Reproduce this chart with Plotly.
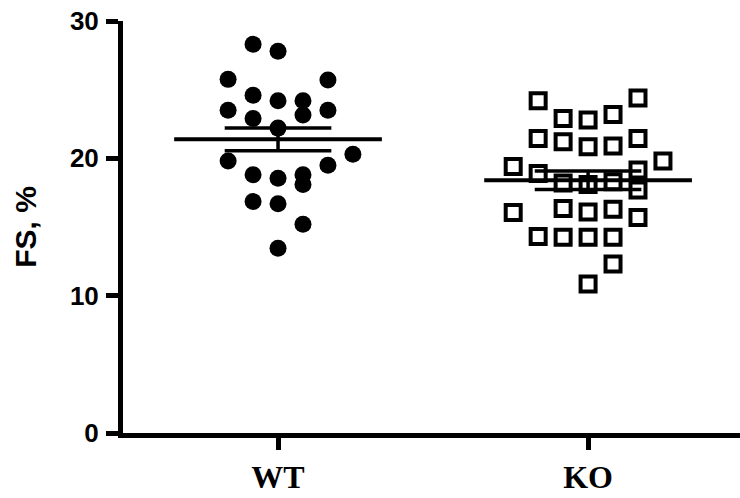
import numpy as np
import plotly.graph_objects as go

# Fractional shortening (%) per animal
GROUPS = ["WT", "KO"]
WT_FS = [28.3, 27.8, 25.75, 25.7, 24.6, 24.2, 24.2, 23.5, 23.5, 23.15, 22.9, 22.2,
         20.3, 19.8, 19.5, 18.8, 18.55, 18.8, 18.1, 16.85, 16.7, 15.2, 13.45]
KO_FS = [24.2, 24.4, 22.9, 22.8, 23.2, 21.45, 21.2, 20.85, 20.9, 21.45, 19.8, 19.4,
         18.9, 19.15, 17.7, 18.2, 18.1, 18.3, 16.05, 16.35, 16.1, 16.3, 15.7, 14.3,
         14.25, 14.25, 14.25, 12.3, 10.85]
Y_TICKS = [0, 10, 20, 30]

# Swarm column index of each point (layout of the dot plot)
WT_SLOT = [-1, 0, -2, 2, -1, 0, 1, -2, 2, 1, -1, 0, 3, -2, 2, -1, 0, 1, 1, -1, 0, 1, 0]
KO_SLOT = [-2, 2, -1, 0, 1, -2, -1, 0, 1, 2, 3, -3, -2, 2, 2, -1, 0, 1, -3, -1, 0, 1, 2,
           -2, -1, 0, 1, 1, 0]

COL_STEP = 0.0805     # horizontal spacing between swarm columns
MEAN_HALF = 0.335     # half-length of the mean bar
SEM_HALF = 0.172      # half-length of the SEM bars

fig = go.Figure()

groups = [
    (1, WT_FS, WT_SLOT, dict(symbol="circle", size=17, color="black", line=dict(width=0))),
    (2, KO_FS, KO_SLOT, dict(symbol="square-open", size=15, color="black",
                             line=dict(width=4, color="black"))),
]

for xc, vals, slots, marker in groups:
    v = np.asarray(vals, dtype=float)
    xs = xc + np.asarray(slots) * COL_STEP
    fig.add_trace(go.Scatter(x=xs, y=v, mode="markers", marker=marker,
                             showlegend=False, hoverinfo="y"))
    mean = v.mean()
    sem = v.std(ddof=1) / np.sqrt(len(v))
    # mean bar
    fig.add_trace(go.Scatter(x=[xc - MEAN_HALF, xc + MEAN_HALF], y=[mean, mean],
                             mode="lines", line=dict(color="black", width=4),
                             showlegend=False, hoverinfo="skip"))
    # SEM whiskers with connector
    fig.add_trace(go.Scatter(
        x=[xc - SEM_HALF, xc + SEM_HALF, None, xc, xc, None, xc - SEM_HALF, xc + SEM_HALF],
        y=[mean + sem, mean + sem, None, mean + sem, mean - sem, None, mean - sem, mean - sem],
        mode="lines", line=dict(color="black", width=3.5),
        showlegend=False, hoverinfo="skip"))

fig.update_layout(
    width=740, height=498,
    margin=dict(l=123, r=0, t=21, b=65),
    paper_bgcolor="white", plot_bgcolor="white",
    xaxis=dict(
        range=[0.5, 2.49], tickmode="array", tickvals=[1, 2], ticktext=GROUPS,
        showline=True, linecolor="black", linewidth=5,
        ticks="outside", ticklen=12, tickwidth=5, tickcolor="black",
        showgrid=False, zeroline=False, ticklabelstandoff=0, automargin=False,
        tickfont=dict(family="Liberation Serif, Times New Roman, serif", size=32,
                      color="black", weight="bold"),
    ),
    yaxis=dict(
        range=[0, 30], tickmode="array", tickvals=Y_TICKS,
        showline=True, linecolor="black", linewidth=5,
        ticks="outside", ticklen=12, tickwidth=5, tickcolor="black",
        showgrid=False, zeroline=False, ticklabelstandoff=2, automargin=False,
        tickfont=dict(family="Liberation Sans, Arial, sans-serif", size=26,
                      color="black", weight="bold"),
        title=dict(text="FS, %", standoff=26,
                   font=dict(family="Liberation Sans, Arial, sans-serif", size=30,
                             color="black", weight="bold")),
    ),
)

fig.write_html("out.html")
